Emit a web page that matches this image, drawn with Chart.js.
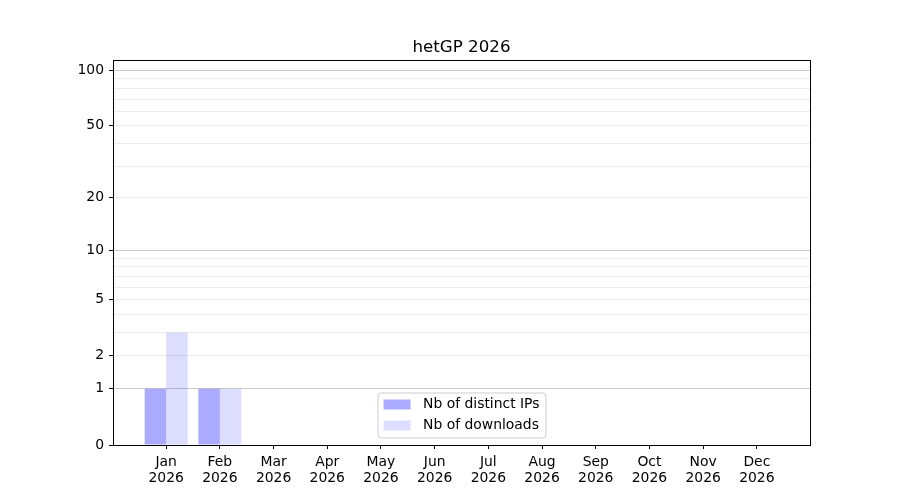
<!DOCTYPE html>
<html>
<head>
<meta charset="utf-8">
<script src="https://cdn.jsdelivr.net/npm/chart.js@4"></script>
<style>
html,body{margin:0;padding:0;background:#fff;}
#wrap{width:900px;height:500px;position:relative;}
</style>
</head>
<body>
<div id="wrap"><canvas id="c" width="900" height="500"></canvas></div>
<script>
const titleText = 'hetGP 2026';
const months = ['Jan','Feb','Mar','Apr','May','Jun','Jul','Aug','Sep','Oct','Nov','Dec'];
const yearLabel = '2026';
const distinctIPs = [1,1,0,0,0,0,0,0,0,0,0,0];
const downloads   = [3,1,0,0,0,0,0,0,0,0,0,0];
const seriesNames = ['Nb of distinct IPs','Nb of downloads'];
const yLabeledTicks = [0,1,2,5,10,20,50,100];
const yMajorGrid = [1,10,100];
const yMinorGrid = [2,3,4,5,6,7,8,9,20,30,40,50,60,70,80,90];
const yMax = 113.8;

const FONT = '"DejaVu Sans", sans-serif';
const colIP = 'rgba(0,0,255,0.333)';
const colDL = 'rgba(0,0,255,0.135)';

const T = v => Math.log10(1 + v);
class Log1pScale extends Chart.LinearScale {
  buildTicks() {
    const all = Array.from(new Set([0].concat(yMajorGrid, yMinorGrid, yLabeledTicks))).sort((a,b)=>a-b);
    return all.map(v => ({value: v}));
  }
  configure() {
    super.configure();
    this._t0 = T(this.min);
    this._t1 = T(this.max);
  }
  getPixelForValue(v) {
    return this.getPixelForDecimal((T(v) - this._t0) / (this._t1 - this._t0));
  }
  getValueForPixel(p) {
    return Math.pow(10, this._t0 + this.getDecimalForPixel(p) * (this._t1 - this._t0)) - 1;
  }
}
Log1pScale.id = 'log1p';
Log1pScale.defaults = Chart.LinearScale.defaults;
Chart.register(Log1pScale);

const framePlugin = {
  id: 'frameAndExtras',
  afterDraw(chart) {
    const ctx = chart.ctx, a = chart.chartArea;
    ctx.save();
    ctx.strokeStyle = '#000';
    ctx.lineWidth = 1;
    ctx.strokeRect(Math.round(a.left)+0.5, Math.round(a.top)+0.5, Math.round(a.right - a.left), Math.round(a.bottom - a.top));
    // title
    ctx.fillStyle = '#000';
    ctx.font = '16.7px ' + FONT;
    ctx.textAlign = 'center';
    ctx.textBaseline = 'alphabetic';
    ctx.fillText(titleText, (a.left + a.right) / 2, a.top - 8);
    // legend
    ctx.font = '13.9px ' + FONT;
    const tw = Math.max(...seriesNames.map(s => ctx.measureText(s).width));
    const pad = 6, sw = 27, gap = 12.5, rowH = 21;
    const w = pad + sw + gap + tw + pad;
    const h = 45;
    const x0 = (a.left + a.right) / 2 - w / 2;
    const y0 = a.bottom - 7.5 - h;
    ctx.beginPath();
    if (ctx.roundRect) ctx.roundRect(x0+0.5, y0+0.5, w, h, 3); else ctx.rect(x0+0.5, y0+0.5, w, h);
    ctx.fillStyle = 'rgba(255,255,255,0.8)';
    ctx.fill();
    ctx.strokeStyle = '#cccccc';
    ctx.stroke();
    const cols = [colIP, colDL];
    seriesNames.forEach((s, i) => {
      const cy = y0 + 12 + i * rowH;
      ctx.fillStyle = cols[i];
      ctx.fillRect(x0 + pad, cy - 5, sw, 10);
      ctx.fillStyle = '#000';
      ctx.textAlign = 'left';
      ctx.textBaseline = 'middle';
      ctx.fillText(s, x0 + pad + sw + gap, cy);
    });
    ctx.restore();
  }
};

new Chart(document.getElementById('c'), {
  type: 'bar',
  data: {
    datasets: [
      { label: seriesNames[0], data: distinctIPs.map((v,i)=>({x:i,y:v})), backgroundColor: colIP, borderWidth: 0 },
      { label: seriesNames[1], data: downloads.map((v,i)=>({x:i,y:v})), backgroundColor: colDL, borderWidth: 0 }
    ]
  },
  plugins: [framePlugin],
  options: {
    responsive: false,
    animation: false,
    devicePixelRatio: 1,
    layout: { padding: { left: 0, right: 90, top: 60, bottom: 0 } },
    categoryPercentage: 0.8,
    barPercentage: 1.0,
    plugins: { legend: { display: false }, title: { display: false }, tooltip: { enabled: false } },
    scales: {
      x: {
        type: 'linear',
        min: -0.99, max: 11.99,
        offset: false,
        afterBuildTicks: s => { s.ticks = months.map((m,i)=>({value:i})); },
        afterFit: s => { s.height = 55; },
        grid: { display: true, offset: false, drawOnChartArea: false, tickLength: 4, tickColor: '#000', tickWidth: 1 },
        border: { display: true, color: '#000' },
        ticks: {
          autoSkip: false, maxRotation: 0, padding: 6, color: '#000',
          font: { family: FONT, size: 13.9, lineHeight: 1.1 },
          callback: (v) => [months[v], yearLabel]
        }
      },
      y: {
        type: 'log1p',
        min: 0, max: yMax,
        afterFit: s => { s.width = 113; },
        grid: {
          color: c => yMajorGrid.includes(c.tick.value) ? '#cccccc' : (c.tick.value === 0 ? 'rgba(0,0,0,0)' : '#ebebeb'),
          tickColor: c => yLabeledTicks.includes(c.tick.value) ? '#000' : 'rgba(0,0,0,0)',
          tickLength: 4, lineWidth: 1
        },
        border: { display: true, color: '#000' },
        ticks: {
          autoSkip: false, padding: 5, color: '#000',
          font: { family: FONT, size: 13.9 },
          callback: v => yLabeledTicks.includes(v) ? String(v) : ''
        }
      }
    }
  }
});
</script>
</body>
</html>
